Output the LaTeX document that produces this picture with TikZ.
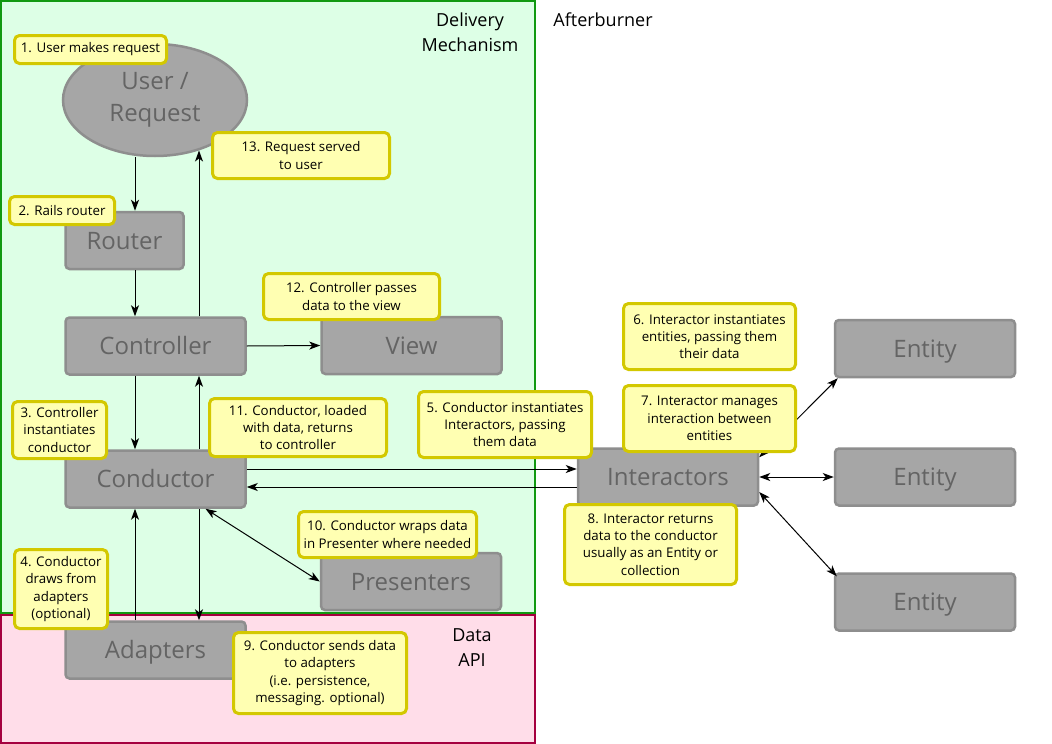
\documentclass[tikz,border=0pt]{standalone}
\usepackage{fontspec}
\setmainfont{Open Sans}
\usepackage{tikz}
\usetikzlibrary{arrows.meta,positioning,shapes.geometric,calc}
\definecolor{cgreen}{HTML}{DDFFE6}
\definecolor{cgreenline}{HTML}{119911}
\definecolor{cpink}{HTML}{FFDDE9}
\definecolor{cpinkline}{HTML}{A5003F}
\definecolor{cbox}{HTML}{A6A6A6}
\definecolor{cboxline}{HTML}{8E8E8E}
\definecolor{ctext}{HTML}{646464}
\definecolor{cnote}{HTML}{FFFFB2}
\definecolor{cnoteline}{HTML}{D3C800}
\tikzset{
  >={Stealth[length=11pt,width=8pt,inset=3pt]},
  acomp/.style={rectangle, rounded corners=4pt, draw=cboxline, fill=cbox,
                line width=2.5pt, text=ctext, font=\fontsize{24}{32}\selectfont,
                minimum width=180pt, minimum height=57pt, inner sep=0pt,
                text height=17pt, text depth=0pt, align=center},
  anote/.style={rectangle, rounded corners=5pt, draw=cnoteline, fill=cnote,
                line width=3pt, font=\fontsize{13.3}{17.3}\selectfont,
                align=center, inner sep=2pt},
  aarr/.style={->, black, line width=1pt},
  alabel/.style={font=\fontsize{18}{25}\selectfont, align=center},
}

\begin{document}
\begin{tikzpicture}[x=1pt,y=-1pt]
  \useasboundingbox (0,0) rectangle (1052,744);

  % regioes
  \draw[fill=cgreen, draw=cgreenline, line width=2pt] (1,1) rectangle (535,613);
  \draw[fill=cpink, draw=cpinkline, line width=2pt] (1,615) rectangle (535,743);
  \node[alabel] (deliv) at (470,32) {Delivery\\Mechanism};
  \node[alabel] (after) at (603,20) {Afterburner};
  \node[alabel] (dapi) at (472,648) {Data\\API};

  % componentes
  \node[acomp, ellipse, text height=, text depth=, minimum width=184pt,
        minimum height=112pt] (user) at (155,100) {User /\\Request};
  \node[acomp, minimum width=118pt] (router) at (124.5,240.5) {Router};
  \node[acomp] (ctrl) at (155.5,346) {Controller};
  \node[acomp] (view) at (411.5,345.5) {View};
  \node[acomp] (cond) at (155.5,479) {Conductor};
  \node[acomp] (pres) at (411,581.5) {Presenters};
  \node[acomp] (adapt) at (155.5,650) {Adapters};
  \node[acomp] (inter) at (668,477) {Interactors};
  \node[acomp] (ent1) at (925,348.5) {Entity};
  \node[acomp] (ent2) at (925,477) {Entity};
  \node[acomp] (ent3) at (925,602) {Entity};

  % colunas das setas verticais
  \coordinate (colL) at (135,0);
  \coordinate (colR) at (199,0);
  \coordinate (cout) at ([yshift=10pt]cond.east);
  \coordinate (cin) at ([yshift=-8pt]cond.east);

  % setas
  \draw[aarr] (user.south -| colL) -- (router.north -| colL);
  \draw[aarr] (ctrl.north -| colR) -- (colR |- user.-49);
  \draw[aarr] (router.south -| colL) -- (ctrl.north -| colL);
  \draw[aarr] (ctrl.east) -- (view.west);
  \draw[aarr] (ctrl.south -| colL) -- (cond.north -| colL);
  \draw[aarr] (cond.north -| colR) -- (ctrl.south -| colR);
  \draw[aarr] (cout) -- (cout -| inter.west);
  \draw[aarr] (cin -| inter.west) -- (cin);
  \draw[aarr, <->] ([xshift=50pt]cond.south) -- (pres.west);
  \draw[aarr] (adapt.north -| colL) -- (cond.south -| colL);
  \draw[aarr] (cond.south -| colR) -- (adapt.north -| colR);
  \draw[aarr, <->] ([yshift=-10pt]inter.north east) -- ([xshift=4pt]ent1.south west);
  \draw[aarr, <->] (inter.east) -- (ent2.west);
  \draw[aarr, <->] ([yshift=-15pt]inter.east) -- ([shift={(3pt,-4pt)}]ent3.north west);

  % notas
  \node[anote, minimum width=152pt, minimum height=28pt] (n1) at (90.5,49.5)
       {1. User makes request};
  \node[anote, minimum width=105pt, minimum height=28pt] (n2) at (62,210.5)
       {2. Rails router};
  \node[anote, minimum width=94pt, minimum height=57pt] (n3) at (59.5,430)
       {3. Controller\\instantiates\\conductor};
  \node[anote, minimum width=93pt, minimum height=79pt] (n4) at (61,589)
       {4. Conductor\\draws from\\adapters\\(optional)};
  \node[anote, minimum width=173pt, minimum height=66pt] (n5) at (505,424.5)
       {5. Conductor instantiates\\Interactors, passing\\them data};
  \node[anote, minimum width=172pt, minimum height=66pt] (n6) at (709.5,336.5)
       {6. Interactor instantiates\\entities, passing them\\their data};
  \node[anote, minimum width=172pt, minimum height=66pt] (n7) at (709.5,418.5)
       {7. Interactor manages\\interaction between\\entities};
  \node[anote, minimum width=172pt, minimum height=80pt] (n8) at (650.5,544.5)
       {8. Interactor returns\\data to the conductor\\usually as an Entity or\\collection};
  \node[anote, minimum width=173pt, minimum height=81pt] (n9) at (320,673)
       {9. Conductor sends data\\to adapters\\(i.e. persistence,\\messaging. optional)};
  \node[anote, minimum width=178pt, minimum height=46pt] (n10) at (387.5,534.5)
       {10. Conductor wraps data\\in Presenter where needed};
  \node[anote, minimum width=177pt, minimum height=58pt] (n11) at (298,427.5)
       {11. Conductor, loaded\\with data, returns\\to controller};
  \node[anote, minimum width=176pt, minimum height=46pt] (n12) at (351.5,296.5)
       {12. Controller passes\\data to the view};
  \node[anote, minimum width=177pt, minimum height=46pt] (n13) at (301,155.5)
       {13. Request served\\to user};

\end{tikzpicture}
\end{document}
